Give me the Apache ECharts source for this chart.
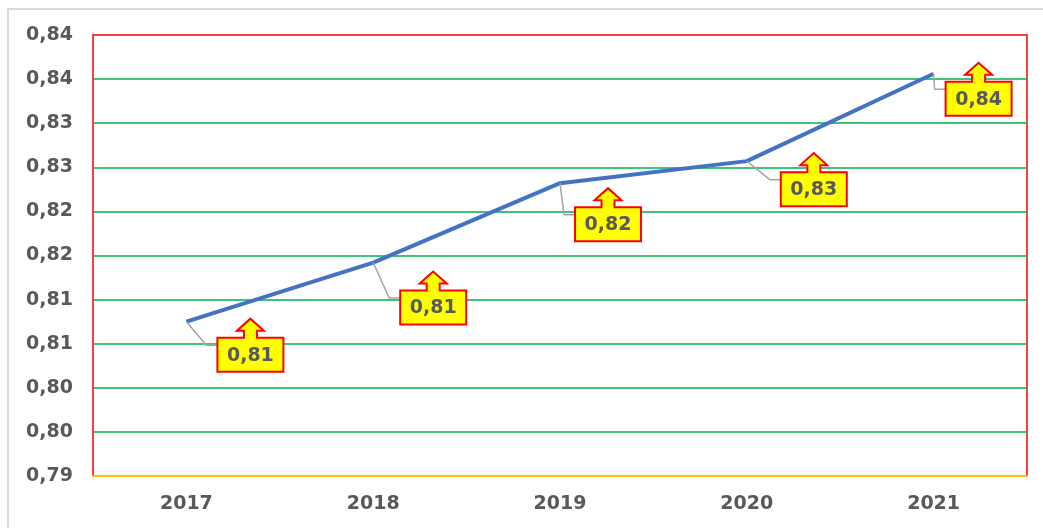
<!DOCTYPE html>
<html>
<head>
<meta charset="utf-8">
<script src="https://cdn.jsdelivr.net/npm/echarts@6/dist/echarts.min.js"></script>
<style>
html,body{margin:0;padding:0;background:#fff;}
#chart{width:1043px;height:528px;}
</style>
</head>
<body>
<div id="chart"></div>
<script>
// ---- data ----
const categories = ['2017', '2018', '2019', '2020', '2021'];
const values = [0.8075, 0.8142, 0.8232, 0.8257, 0.8356];
const yMin = 0.79;
const yMax = 0.84;
const yStep = 0.005;

// ---- layout/styling (not data) ----
const calloutOffsets = [[64, 33], [60, 45], [48, 41], [67, 28], [45, 25]];

function fmt2(v) {
  const t = Math.round(v * 1000);
  const h = Math.round(t / 10);
  return (h / 100).toFixed(2).replace('.', ',');
}

const chart = echarts.init(document.getElementById('chart'), null, {renderer: 'canvas'});
const FONT = '"DejaVu Sans", Verdana, sans-serif';

const option = {
  backgroundColor: '#ffffff',
  animation: false,
  grid: {left: 93, right: 16, top: 35, bottom: 52, show: true, borderColor: '#FF0000', borderWidth: 1.5, backgroundColor: 'transparent'},
  xAxis: {
    type: 'category',
    data: categories,
    boundaryGap: true,
    axisLine: {show: true, lineStyle: {color: '#FFC000', width: 2}},
    axisTick: {show: false},
    axisLabel: {color: '#595959', fontFamily: FONT, fontWeight: 'bold', fontSize: 19, margin: 19},
    splitLine: {show: false},
    z: 5
  },
  yAxis: {
    type: 'value',
    min: yMin, max: yMax, interval: yStep,
    axisLine: {show: false},
    axisTick: {show: false},
    axisLabel: {color: '#595959', fontFamily: FONT, fontWeight: 'bold', fontSize: 19, margin: 20,
      formatter: v => fmt2(v)},
    splitLine: {show: true, showMinLine: false, showMaxLine: false, lineStyle: {color: '#00B050', width: 1.5}}
  },
  graphic: [
    {type: 'rect', shape: {x: 8, y: 9, width: 1060, height: 560}, style: {fill: 'none', stroke: '#D9D9D9', lineWidth: 2}, z: 1, silent: true}
  ],
  series: [
    {
      type: 'line',
      data: values,
      symbol: 'none',
      lineStyle: {color: '#4472C4', width: 4},
      z: 3
    },
    {
      type: 'custom',
      data: values.map((v, i) => [i, v]),
      z: 4,
      renderItem: function (params, api) {
        const i = params.dataIndex;
        const pt = api.coord([api.value(0), api.value(1)]);
        const off = calloutOffsets[i];
        const cx = pt[0] + off[0];
        const cy = pt[1] + off[1];
        const w = 33, h = 17;
        const top = cy - h;
        const poly = [
          [cx - w, top], [cx - 6.5, top], [cx - 6.5, top - 7], [cx - 13.5, top - 7],
          [cx, top - 19], [cx + 13.5, top - 7], [cx + 6.5, top - 7], [cx + 6.5, top],
          [cx + w, top], [cx + w, cy + h], [cx - w, cy + h]
        ];
        const midY = (top - 19 + cy + h) / 2;
        return {
          type: 'group',
          children: [
            {type: 'polyline', shape: {points: [pt, [cx - w - 11, midY], [cx - w, midY]]},
              style: {fill: 'none', stroke: '#A6A6A6', lineWidth: 1.5}},
            {type: 'polygon', shape: {points: poly},
              style: {fill: '#FFFF00', stroke: '#FF0000', lineWidth: 2}},
            {type: 'text', style: {text: fmt2(api.value(1)), x: cx, y: cy + 1, align: 'center', verticalAlign: 'middle',
              fill: '#595959', font: 'bold 19px ' + FONT}}
          ]
        };
      }
    }
  ]
};
chart.setOption(option);
</script>
</body>
</html>
